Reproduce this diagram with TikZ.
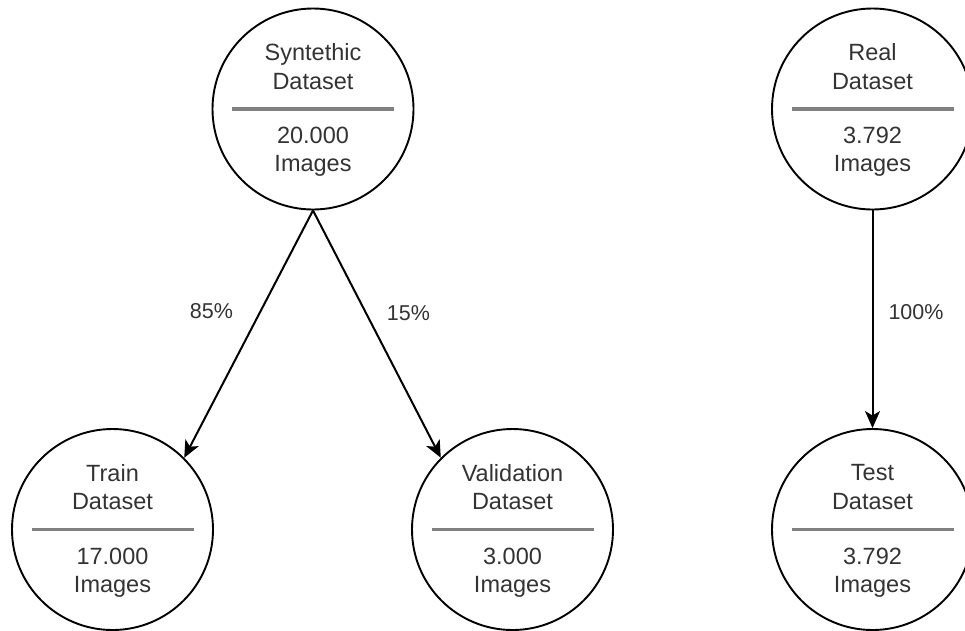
\documentclass[tikz,border=0pt]{standalone}
\usepackage{fontspec}
\setmainfont{Liberation Sans}
\usetikzlibrary{arrows.meta}

\definecolor{txt}{HTML}{333333}
\definecolor{rule}{HTML}{808080}

\tikzset{
  dsring/.style={circle, draw=black, line width=1.9pt, minimum size=201pt, inner sep=0pt},
  dstext/.style={text=txt, align=center, font=\fontsize{23.5}{28.2}\selectfont, inner sep=0pt},
  dsrule/.style={draw=rule, line width=3.2pt},
  flow/.style={draw=black, line width=2pt, -{Stealth[length=17pt, width=15pt, inset=4.5pt]}},
  pct/.style={text=txt, font=\fontsize{21.5}{25}\selectfont, inner sep=0pt}
}

% a dataset circle: ring, caption, gray divider, image count
\newcommand{\dsnode}[4]{%
  \node[dsring] (#1) at (#2) {};
  \node[dstext] (#1-top) at ([yshift=42.5pt]#1.center) {#3};
  \node[dstext] (#1-bot) at ([yshift=-43pt]#1.center) {#4};
  \coordinate (#1-l) at ([xshift=-81pt]#1.center);
  \coordinate (#1-r) at ([xshift=81pt]#1.center);
  \draw[dsrule] (#1-l) -- (#1-r);
}

\begin{document}
\begin{tikzpicture}[x=1pt, y=-1pt]
  \useasboundingbox (0,0) rectangle (965,630);
  \clip (0,0) rectangle (965,630);

  \dsnode{syn}{313,109}{Syntethic\\Dataset}{20.000\\Images}
  \dsnode{train}{112.5,529.5}{Train\\Dataset}{17.000\\Images}
  \dsnode{val}{512.5,529.5}{Validation\\Dataset}{3.000\\Images}
  \dsnode{real}{872.5,109}{Real\\Dataset}{3.792\\Images}
  \dsnode{test}{872.5,529.5}{Test\\Dataset}{3.792\\Images}

  \draw[flow] (syn.south) -- (train.45);
  \draw[flow] (syn.south) -- (val.135);
  \draw[flow] (real.south) -- (test.north);

  \node[pct] (p85) at (211.5,311) {85\%};
  \node[pct] (p15) at (408.5,313) {15\%};
  \node[pct] (p100) at (916,312) {100\%};
\end{tikzpicture}
\end{document}
